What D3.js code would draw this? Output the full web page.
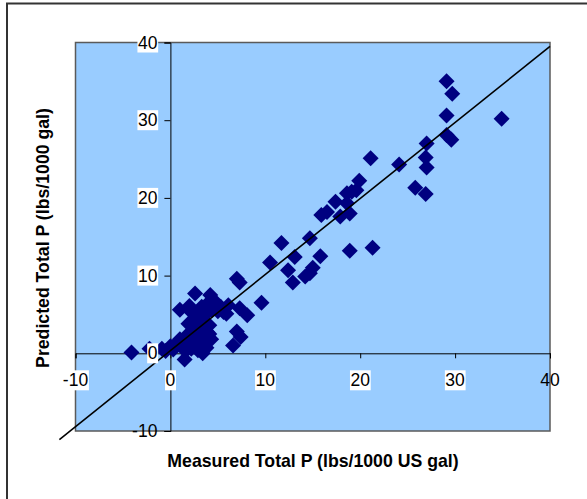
<!DOCTYPE html>
<html>

<head>
  <meta charset="UTF-8">
  <style>
    body { margin: 0; background: #fff; }
    text { font-family: Arial, "Liberation Sans", sans-serif; }
  </style>
</head>

<body>
  <svg></svg>
  <script src="https://d3js.org/d3.v7.min.js"></script>

  <script>
    // measured (x) vs predicted (y)
    let measured = [
      -4.1, -2.2, -0.9, -0.5, 0.0, 0.3, 0.6, 1.0, 1.3, 1.5, 1.6, 1.8, 2.0, 2.2, 2.4, 2.5, 2.6, 2.7, 2.8, 2.9,
      3.0, 3.1, 3.2, 3.3, 3.4, 3.5, 3.6, 3.7, 3.8, 3.9, 4.0, 4.1, 4.2, 4.3, 4.4, 4.6, 4.8, 5.0, 5.3, 5.6,
      1.0, 2.6, 1.9, 2.2, 2.0, 3.4, 4.1,
      5.9, 6.1, 7.3, 8.1, 7.0, 7.3, 9.6, 7.0, 7.4, 6.6,
      10.5, 11.7, 12.4, 12.9, 13.1, 14.2, 14.7, 15.0, 14.7, 15.8,
      15.9, 16.5, 17.4, 17.9, 18.6, 18.6, 18.9, 19.1, 19.6, 19.9, 18.9, 21.3, 21.1,
      24.1, 25.8, 26.9, 26.9, 27.0, 27.0, 29.1, 29.6, 29.1, 29.7, 29.1, 34.9
    ];
    let predicted = [
      0.1, 0.6, 0.6, 0.3, 0.9, 0.5, 1.2, 1.8, 1.0, -0.8, 0.3, 2.4, 1.5, 0.6, 3.9, 3.0, 2.2, 1.2, 4.6, 0.4,
      5.3, 3.4, 2.0, 6.0, 0.0, 4.2, 1.4, 5.0, 0.7, 2.7, 6.5, 3.6, 7.5, 1.8, 5.6, 6.8, 6.2, 5.4, 6.0, 5.3,
      5.6, 7.7, 3.8, 5.3, 6.1, 0.6, 2.5,
      5.1, 6.2, 5.8, 4.9, 9.6, 9.1, 6.5, 2.8, 2.1, 1.0,
      11.7, 14.2, 10.7, 9.1, 12.4, 9.9, 14.8, 11.0, 10.3, 12.5,
      17.8, 18.2, 19.5, 17.6, 19.3, 20.6, 18.0, 20.8, 21.0, 22.2, 13.2, 13.6, 25.1,
      24.3, 21.3, 20.5, 25.2, 27.0, 23.9, 28.1, 27.5, 30.6, 33.4, 35.0, 30.2
    ];

    // hand-drawn 1:1 line (in data units, runs past the plot corner)
    let lineFrom = [-11.7, -11.1];
    let lineTo = [40, 39.5];

    let ticks = [-10, 0, 10, 20, 30, 40];
    let xTitle = "Measured Total P (lbs/1000 US gal)";
    let yTitle = "Predicted Total P (lbs/1000 gal)";

    let width = 587, height = 499;
    let plot = { left: 75.5, right: 550, top: 42.5, bottom: 431 };

    let svg = d3.select("svg")
      .attr("width", width)
      .attr("height", height);

    let x = d3.scaleLinear().domain([-10, 40]).range([plot.left, plot.right]);
    let y = d3.scaleLinear().domain([-10, 40]).range([plot.bottom, plot.top]);

    // chart frame
    svg.append("rect")
      .attr("x", 7).attr("y", 3.5)
      .attr("width", width + 10).attr("height", height + 10)
      .attr("fill", "#fff")
      .attr("stroke", "#333")
      .attr("stroke-width", 2);

    // plot area
    svg.append("rect")
      .attr("x", plot.left).attr("y", plot.top)
      .attr("width", plot.right - plot.left).attr("height", plot.bottom - plot.top)
      .attr("fill", "#99CCFF")
      .attr("stroke", "#5a5a5a")
      .attr("stroke-width", 1.5);

    // axes cross at 0
    let xAxis = d3.axisBottom(x).tickValues(ticks).tickSize(5).tickFormat("");
    let yAxis = d3.axisLeft(y).tickValues(ticks).tickSize(6).tickFormat("");

    svg.append("g")
      .attr("transform", "translate(0," + y(0) + ")")
      .call(xAxis)
      .call(g => g.select(".domain").attr("stroke", "#000"));

    svg.append("g")
      .attr("transform", "translate(" + x(0) + ",0)")
      .call(yAxis)
      .call(g => g.select(".domain").attr("stroke", "#000"));

    // points
    let pts = measured.map((m, i) => ({ m: m, p: predicted[i] }));
    let diamond = d3.symbol().type(d3.symbolSquare).size(128);

    svg.append("g")
      .selectAll("path")
      .data(pts)
      .enter()
      .append("path")
      .attr("d", diamond)
      .attr("transform", d => "translate(" + x(d.m) + "," + y(d.p) + ") rotate(45)")
      .attr("fill", "#000080");

    // 1:1 line
    svg.append("line")
      .attr("x1", x(lineFrom[0])).attr("y1", y(lineFrom[1]))
      .attr("x2", x(lineTo[0])).attr("y2", y(lineTo[1]))
      .attr("stroke", "#000")
      .attr("stroke-width", 1.6);

    // tick labels, most of them on a white box
    function label(txt, px, py, anchor, boxed) {
      let g = svg.append("g");
      let t = g.append("text")
        .attr("x", px).attr("y", py)
        .attr("text-anchor", anchor)
        .attr("dominant-baseline", "central")
        .attr("font-size", "17.5px")
        .attr("fill", "#000")
        .text(txt);
      if (boxed) {
        let b = t.node().getBBox();
        g.insert("rect", "text")
          .attr("x", b.x - 0.5).attr("y", b.y)
          .attr("width", b.width + 1).attr("height", b.height)
          .attr("fill", "#fff");
      }
    }

    ticks.forEach(v => label(String(v), x(v), y(0) + 27, "middle", v !== 40));
    ticks.forEach(v => label(String(v), x(0) - 13, y(v), "end", v !== -10));

    // axis titles
    svg.append("text")
      .attr("x", 313).attr("y", 467)
      .attr("text-anchor", "middle")
      .attr("font-size", "17.7px")
      .attr("font-weight", "bold")
      .text(xTitle);

    svg.append("text")
      .attr("transform", "translate(49,238) rotate(-90)")
      .attr("text-anchor", "middle")
      .attr("font-size", "17.7px")
      .attr("font-weight", "bold")
      .text(yTitle);
  </script>

</body>

</html>
